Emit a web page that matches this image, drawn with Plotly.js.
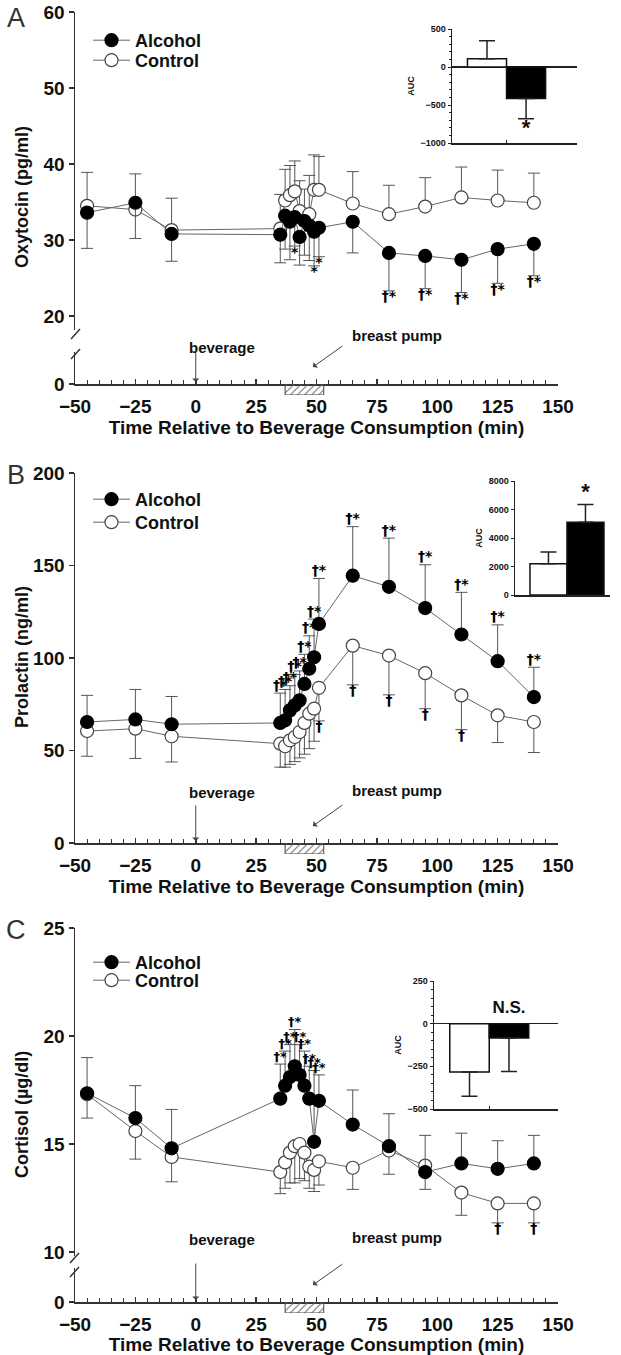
<!DOCTYPE html>
<html><head><meta charset="utf-8">
<script src="https://cdn.plot.ly/plotly-3.0.1.min.js"></script>
<style>html,body{margin:0;padding:0;background:#fff;}#chart{width:621px;height:1355px;}</style>
</head><body><div id="chart"></div>
<script>
// ---------- data ----------
const time=[-45,-25,-10,35,37,39,41,43,45,47,49,51,65,80,95,110,125,140];
const pumpStart=37, pumpEnd=53, beverageTime=0;
const groupNames=['Alcohol','Control'];
const xTicks=[-50,-25,0,25,50,75,100,125,150];
const xTitle='Time Relative to Beverage Consumption (min)';

// Panel A - Oxytocin (pg/ml)
const oxyAlc=[33.6,34.9,30.8,30.7,33.2,32.4,33.0,30.4,32.5,31.9,31.1,31.6,32.4,28.3,27.9,27.4,28.8,29.5];
const oxyAlcErr=[4.7,4.7,3.6,3.7,4.4,5.0,3.8,3.7,4.5,4.6,4.5,3.8,4.1,5.0,4.3,4.3,4.5,4.2];
const oxyCtl=[34.5,34.0,31.3,31.5,35.2,35.9,36.4,33.8,32.6,33.4,36.6,36.6,34.8,33.4,34.4,35.6,35.2,34.9];
const oxyCtlErr=[4.4,4.7,4.2,4.5,4.1,3.9,4.0,4.0,4.1,5.1,4.6,4.4,4.2,3.8,3.8,4.0,4.0,3.9];
const oxySigAlc=['','','','','','','*','','','','*','*','','†*','†*','†*','†*','†*'];
const oxyTicks=[20,30,40,50,60];

// Panel B - Prolactin (ng/ml)
const prlAlc=[65.4,66.8,64.2,64.9,66.3,71.7,74.4,77.1,86.0,94.2,100.4,118.4,144.5,138.5,127.0,112.7,98.3,78.9];
const prlAlcErr=[14.4,16.2,15.0,16.1,16.7,13.3,16.6,15.9,16.0,17.8,20.6,24.6,26.5,26.3,23.4,22.8,19.6,16.1];
const prlCtl=[60.5,61.8,57.7,53.7,52.3,55.5,57.3,60.0,64.9,69.9,72.6,83.9,106.7,101.3,91.8,79.8,69.0,65.4];
const prlCtlErr=[13.6,16.1,13.9,12.7,11.3,13.0,13.3,14.0,16.9,18.9,17.6,17.9,21.2,21.2,19.2,18.5,14.7,16.5];
const prlSigAlc=['','','','†*','†*','†*','†*','†*','†*','†*','†*','†*','†*','†*','†*','†*','†*','†*'];
const prlSigCtl=['','','','','','','','','','','','†','†','†','†','†','',''];
const prlTicks=[0,50,100,150,200];

// Panel C - Cortisol (µg/dl)
const corAlc=[17.35,16.2,14.8,17.1,17.7,18.1,18.6,18.2,17.7,17.1,15.1,17.0,15.9,14.9,13.7,14.1,13.85,14.1];
const corAlcErr=[1.65,1.5,1.8,1.6,1.6,1.5,1.7,1.4,1.6,1.5,3.3,1.2,1.6,1.5,1.7,1.4,1.3,1.3];
const corCtl=[17.3,15.6,14.4,13.7,14.15,14.6,14.9,15.0,14.6,13.95,13.8,14.2,13.9,14.7,14.0,12.75,12.25,12.25];
const corCtlErr=[1.1,1.3,1.15,1.0,1.2,1.4,1.7,1.6,1.3,1.0,1.0,1.1,1.0,1.1,1.1,1.05,0.9,0.9];
const corSigAlc=['','','','†*','†*','†*','†*','†*','†*','†*','†*','†*','','','','','',''];
const corSigCtl=['','','','','','','','','','','','','','','','','†','†'];
const corTicks=[10,15,20,25];

// Insets - AUC (Control, Alcohol)
const aucGroups=['Control','Alcohol'];
const aucPos=[1,2];
const aucOxy=[110,-415], aucOxyErr=[235,265];
const aucPrl=[2200,5100], aucPrlErr=[820,1250];
const aucCor=[-283,-84], aucCorErr=[142,197];
const aucOxyTicks=[500,0,-500,-1000];
const aucPrlTicks=[0,2000,4000,6000,8000];
const aucCorTicks=[250,0,-250,-500];

// ---------- helpers ----------
const W=621,H=1355;
const px=v=>v/W, py=v=>1-v/H;
const FONT='Liberation Sans, Arial, Helvetica, sans-serif';
const SIGFONT='DejaVu Sans, Liberation Sans, sans-serif';
const INK='#222', AX='#333', LINE='#666';
const zeros=n=>new Array(n).fill(0);

const traces=[];
function series(xa,ya,y,err,dir,filled,name,legend){
  const up=dir>0?err:zeros(err.length), dn=dir<0?err:zeros(err.length);
  traces.push({type:'scatter',mode:'lines+markers',x:time,y:y,xaxis:xa,yaxis:ya,name:name,legend:legend,
    line:{color:LINE,width:1},
    marker:{symbol:'circle',size:13,color:filled?'#000':'#fff',line:{color:filled?'#000':'#444',width:1.2}},
    error_y:{type:'data',symmetric:false,array:up,arrayminus:dn,color:'#555',thickness:1,width:6},
    hoverinfo:'skip'});
}
function sig(xa,ya,y,err,labels,dir,size){
  const xs=[],ys=[],ts=[];
  labels.forEach((l,i)=>{ if(l){xs.push(time[i]);ys.push(y[i]+dir*err[i]);ts.push(l);} });
  traces.push({type:'scatter',mode:'text',x:xs,y:ys,text:ts,xaxis:xa,yaxis:ya,showlegend:false,
    textposition:dir>0?'top center':'bottom center',cliponaxis:false,hoverinfo:'skip',
    textfont:{family:SIGFONT,size:size||14,weight:'bold',color:'#000'}});
}
function pump(xa,ya){
  traces.push({type:'bar',x:[(pumpStart+pumpEnd)/2],y:[1],width:[pumpEnd-pumpStart],xaxis:xa,yaxis:ya,showlegend:false,
    marker:{color:'#fff',line:{color:'#444',width:1},pattern:{shape:'/',fgcolor:'#666',size:5,solidity:0.2}},hoverinfo:'skip'});
}
function anchorTrace(xa,ya){ // invisible trace so the lower (broken) axis segment is drawn
  traces.push({type:'scatter',mode:'markers',x:[beverageTime],y:[0],xaxis:xa,yaxis:ya,showlegend:false,
    marker:{opacity:0,size:1},hoverinfo:'skip'});
}
function inset(xa,ya,vals,errs,mark,markY,markPos,markSize){
  traces.push({type:'bar',x:aucPos,y:vals,width:[1,1],xaxis:xa,yaxis:ya,showlegend:false,text:aucGroups,textposition:'none',
    marker:{color:['#fff','#000'],line:{color:'#111',width:1.5}},
    error_y:{type:'data',symmetric:false,array:vals.map((v,i)=>v>=0?errs[i]:0),arrayminus:vals.map((v,i)=>v<0?errs[i]:0),color:'#222',thickness:1.5,width:8},
    hoverinfo:'skip'});
  traces.push({type:'scatter',mode:'text',x:[aucPos[1]],y:[markY],text:[mark],xaxis:xa,yaxis:ya,showlegend:false,
    textposition:markPos,cliponaxis:false,hoverinfo:'skip',textfont:{family:FONT,size:markSize,weight:'bold',color:'#111'}});
}

// Panel A
series('x','y',oxyCtl,oxyCtlErr,1,false,groupNames[1],'legend2');
series('x','y',oxyAlc,oxyAlcErr,-1,true,groupNames[0],'legend');
sig('x','y',oxyAlc,oxyAlcErr,oxySigAlc,-1,14);
anchorTrace('x','y2');
pump('x','y4');
inset('x2','y3',aucOxy,aucOxyErr,'*',aucOxy[1]-aucOxyErr[1],'bottom center',22);
// Panel B
series('x3','y5',prlCtl,prlCtlErr,-1,false,groupNames[1],'legend4');
series('x3','y5',prlAlc,prlAlcErr,1,true,groupNames[0],'legend3');
sig('x3','y5',prlAlc,prlAlcErr,prlSigAlc,1,14);
sig('x3','y5',prlCtl,prlCtlErr,prlSigCtl,-1,14);
pump('x3','y7');
inset('x4','y6',aucPrl,aucPrlErr,'*',aucPrl[1]+aucPrlErr[1],'top center',22);
// Panel C
series('x5','y8',corCtl,corCtlErr,-1,false,groupNames[1],'legend6');
series('x5','y8',corAlc,corAlcErr,1,true,groupNames[0],'legend5');
sig('x5','y8',corAlc,corAlcErr,corSigAlc,1,13);
sig('x5','y8',corCtl,corCtlErr,corSigCtl,-1,14);
anchorTrace('x5','y9');
pump('x5','y11');
inset('x6','y10',aucCor,aucCorErr,'N.S.',40,'top center',17);

// ---------- layout ----------
const tickFont={family:FONT,size:19,weight:'bold',color:'#111'};
const smallFont={family:FONT,size:9,weight:'bold',color:'#111'};
const titleFont={family:FONT,size:18,weight:'bold',color:'#111'};
function xMain(anchor){return {domain:[px(75),px(558)],range:[-50,150],anchor:anchor,showline:true,linecolor:AX,linewidth:1.5,
  showgrid:false,zeroline:false,tickmode:'array',tickvals:xTicks,ticks:'inside',ticklen:5,tickwidth:1.5,tickcolor:AX,tickfont:tickFont,
  ticklabelstandoff:5,
  minor:{tickmode:'linear',tick0:0,dtick:5,ticks:'inside',ticklen:4,tickwidth:1,tickcolor:AX},
  title:{text:xTitle,font:{family:FONT,size:19,weight:'bold',color:'#111'},standoff:0}};}
function yMain(anchor,dom,range,ticks){return {domain:[py(dom[1]),py(dom[0])],range:range,anchor:anchor,showline:true,linecolor:AX,linewidth:1.5,
  showgrid:false,zeroline:false,tickmode:'array',tickvals:ticks,ticks:'outside',ticklen:5,tickwidth:1.5,tickcolor:AX,tickfont:tickFont};}
function yLow(anchor,dom){return {domain:[py(dom[1]),py(dom[0])],range:[0,1],anchor:anchor,showline:true,linecolor:AX,linewidth:1.5,
  showgrid:false,zeroline:false,tickmode:'array',tickvals:[0],ticktext:['0'],ticks:'outside',ticklen:5,tickwidth:1.5,tickcolor:AX,tickfont:tickFont};}
function yPump(anchor,dom){return {domain:[py(dom[1]),py(dom[0])],range:[0,1],anchor:anchor,visible:false,fixedrange:true};}
function xIn(anchor,dom,range,tick){return {domain:[px(dom[0]),px(dom[1])],range:range,anchor:anchor,showline:true,linecolor:INK,linewidth:1.5,
  showgrid:false,zeroline:false,tickmode:'array',tickvals:tick?[1.5]:[],ticks:tick?'inside':'',ticklen:3,tickcolor:INK,showticklabels:false};}
function yIn(anchor,dom,range,ticks,minor){const a={domain:[py(dom[1]),py(dom[0])],range:range,anchor:anchor,showline:true,linecolor:INK,linewidth:1.5,
  showgrid:false,zeroline:true,zerolinecolor:INK,zerolinewidth:1.5,tickmode:'array',tickvals:ticks,ticks:'outside',ticklen:3,tickwidth:1,tickcolor:INK,
  tickfont:smallFont,title:{text:'AUC',font:smallFont,standoff:4}};
  if(minor) a.minor={tickmode:'linear',tick0:0,dtick:minor,ticks:'outside',ticklen:2,tickwidth:1,tickcolor:INK}; return a;}

function leg(top){return {x:px(88),y:py(top),xanchor:'left',yanchor:'top',bgcolor:'rgba(0,0,0,0)',
  font:{family:FONT,size:18,weight:'bold',color:'#111'},itemwidth:37,tracegroupgap:0};}

const ann=[];
function panelDecor(letter,letterY,xa,axisY,bevY,pumpY,yTitle,yTitleY){
  ann.push({xref:'paper',yref:'paper',x:px(16),y:py(letterY),xanchor:'center',yanchor:'middle',text:letter,showarrow:false,font:{family:FONT,size:27,color:'#333'}});
  ann.push({xref:'paper',yref:'paper',x:px(22),y:py(yTitleY),xanchor:'center',yanchor:'middle',text:yTitle,textangle:-90,showarrow:false,font:titleFont});
  ann.push({xref:xa,yref:'paper',x:beverageTime,y:py(bevY),text:'beverage',showarrow:false,xanchor:'left',xshift:-9,
    font:{family:FONT,size:15,weight:'bold',color:'#111'}});
  ann.push({xref:xa,yref:'paper',x:beverageTime,y:py(axisY-2),text:'',showarrow:true,ax:0,ay:-(axisY-2-(bevY+12)),
    arrowhead:1,arrowsize:1.2,arrowwidth:1,arrowcolor:'#444'});
  ann.push({xref:'paper',yref:'paper',x:px(397),y:py(pumpY),xanchor:'center',text:'breast pump',showarrow:false,
    font:{family:FONT,size:15,weight:'bold',color:'#111'}});
  ann.push({xref:xa,yref:'paper',x:48.5,y:py(axisY-17),text:'',showarrow:true,ax:31,ay:-22,
    arrowhead:1,arrowsize:1.2,arrowwidth:1,arrowcolor:'#444'});
}
panelDecor('A',18,'x',384,337,325,'Oxytocin (pg/ml)',197);
panelDecor('B',475,'x3',843,792,790,'Prolactin (ng/ml)',657);
panelDecor('C',930,'x5',1302,1250,1248,'Cortisol (µg/dl)',1115);

const shapes=[];
function brk(x0,y0){shapes.push({type:'line',xref:'paper',yref:'paper',x0:px(x0),y0:py(y0),x1:px(x0+9),y1:py(y0-10),line:{color:AX,width:1.5}});}
brk(71,339); brk(71,359);
brk(70,1263); brk(70,1277);

const layout={width:W,height:H,margin:{l:0,r:0,t:0,b:0},paper_bgcolor:'#fff',plot_bgcolor:'rgba(0,0,0,0)',
  showlegend:true,hovermode:false,font:{family:FONT,color:'#111'},
  legend:leg(22),legend2:leg(42),legend3:leg(481),legend4:leg(504),legend5:leg(944),legend6:leg(962),
  // Panel A
  xaxis:xMain('y2'),
  yaxis:yMain('x',[12,330],[20-(330-316)/7.6,60],oxyTicks),
  yaxis2:yLow('x',[352,384]),
  yaxis4:yPump('x',[384,395]),
  xaxis2:xIn('y3',[452,577],[0.104,3.304],true),
  yaxis3:yIn('x2',[29,143],[-1000,500],aucOxyTicks,100),
  // Panel B
  xaxis3:xMain('y5'),
  yaxis5:yMain('x3',[473,843],[0,200],prlTicks),
  yaxis7:yPump('x3',[843,854]),
  xaxis4:xIn('y6',[515,610],[0.095,2.663],false),
  yaxis6:yIn('x4',[481,595],[0,8000],aucPrlTicks,0),
  // Panel C
  xaxis5:xMain('y9'),
  yaxis8:yMain('x5',[928,1256],[25-328/21.6,25],corTicks),
  yaxis9:yLow('x5',[1268,1302]),
  yaxis11:yPump('x5',[1302,1313]),
  xaxis6:xIn('y10',[434,558],[0.101,3.241],true),
  yaxis10:yIn('x6',[981,1109],[-500,250],aucCorTicks,50),
  annotations:ann,shapes:shapes,bargap:0};
layout.yaxis6.zeroline=false;

Plotly.newPlot('chart',traces,layout,{staticPlot:true,displayModeBar:false});
</script></body></html>
